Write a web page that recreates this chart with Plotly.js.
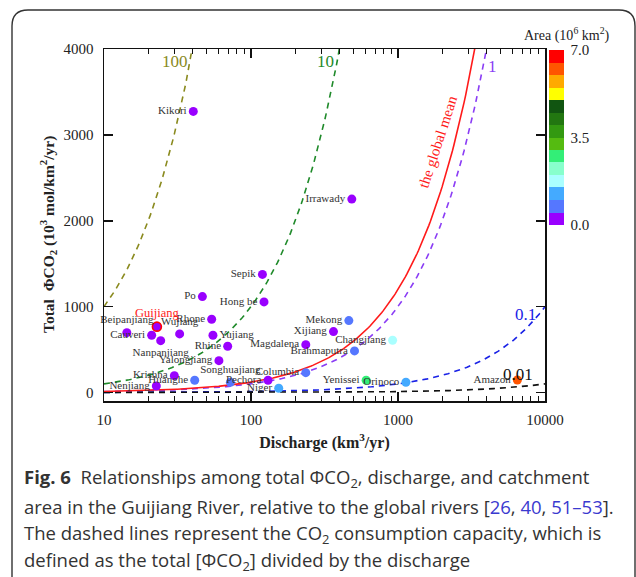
<!DOCTYPE html>
<html><head><meta charset="utf-8">
<script src="https://cdn.plot.ly/plotly-3.0.1.min.js"></script>
<style>html,body{margin:0;padding:0;background:#fff}#chart{width:636px;height:577px}</style>
</head><body><div id="chart"></div>
<script>
// ---- data ----
const rivers = ['Kikori','Irrawady','Sepik','Hong be','Po','Rhone','Guijiang','Beipanjiang','Cauveri','Wujiang','Nanpanjiang','Yujiang','Rhine','Yalongjiang','Krishna','Huanghe','Nenjiang','Songhuajiang','Pechora','Columbia','Niger','Magdalena','Xijiang','Mekong','Brahmaputra','Changjiang','Yenissei','Orinoco','Amazon'];
const discharge = [40.5,485,119.6,122.6,46.7,54.0,22.9,14.3,21.1,32.7,24.3,55.1,69.4,60.5,30.1,41.4,22.7,72.4,130.6,235.9,154.4,235.9,364,463,506,919,607,1132,6486];
const totalFlux = [3273,2252,1375,1055,1117,853,767,697,667,682,604,667,538,371,196,142,76,119,142,231,49,557,709,837,484,608,142,119,146];
const area = [0.013,0.41,0.08,0.15,0.07,0.1,0.019,0.026,0.09,0.087,0.057,0.09,0.19,0.13,0.26,0.75,0.3,0.56,0.32,0.67,1.2,0.26,0.35,0.8,0.58,1.8,2.6,1.1,6.1];
const labelPos = ['middle left','middle left','middle left','middle left','middle left','middle left','top center','top center','middle left','top center','bottom center','middle right','middle left','middle left','middle left','middle left','middle left','top center','middle left','middle left','middle left','middle left','middle left','middle left','middle left','middle left','middle left','middle left','middle left'];

// capacity lines: total flux = capacity x discharge
const capacityLevels = [100, 10, 1, 0.1, 0.01];
const capacityLabels = ['100','10','1','0.1','0.01'];
const globalMeanCapacity = 1.2;
const xTicks = [10, 100, 1000, 10000];
const yTicks = [0, 1000, 2000, 3000, 4000];
const areaTicks = [0, 3.5, 7];
const areaTickText = ['0.0','3.5','7.0'];

// ---- styles ----
const capColors = ['#8a8a1e','#1f8a2a','#8a3cf5','#1a22e6','#111111'];
const bandColors = ['#9900ff','#5577ff','#44aaff','#aaffff','#88ffcc','#33ee77','#55bb11','#339911','#227711','#115511','#ffff00','#ffaa00','#ff5500','#ff0000'];
const colorscale = [];
bandColors.forEach((c,i)=>{colorscale.push([i/bandColors.length,c]);colorscale.push([(i+1)/bandColors.length,c]);});

const serif = 'Liberation Serif, Times New Roman, serif';
const sans = 'Open Sans, Noto Sans, sans-serif';

// sample discharge values on the log axis for the capacity curves
const xs = [];
for (let i=0;i<=300;i++) xs.push(Math.pow(10, 1 + 3*i/300));

const traces = [];
capacityLevels.forEach((c,i)=>{
  traces.push({x: xs, y: xs.map(v=>v*c), mode:'lines', hoverinfo:'skip', showlegend:false,
    line:{color:capColors[i], width:1.6, dash:'6px,5px'}});
});
traces.push({x: xs, y: xs.map(v=>v*globalMeanCapacity), mode:'lines', showlegend:false, hoverinfo:'skip',
  line:{color:'#ff1a1a', width:1.6}});

traces.push({
  x: discharge, y: totalFlux, text: rivers, mode:'markers+text', showlegend:false,
  textposition: labelPos,
  textfont:{family:serif, size: rivers.map(r=>r==='Guijiang'?12.5:11), color: rivers.map(r=>r==='Guijiang'?'#ff1a1a':'#333')},
  cliponaxis:false,
  marker:{size:9, color: area, cmin:0, cmax:7, colorscale: colorscale,
    line:{width: rivers.map(r=>r==='Guijiang'?1.6:0), color: rivers.map(r=>r==='Guijiang'?'#ff0000':'rgba(0,0,0,0)')},
    showscale:true,
    colorbar:{x:1.009, xanchor:'left', y:0.997, yanchor:'top', thickness:15, len:175, lenmode:'pixels',
      tickvals: areaTicks, ticktext: areaTickText, ticks:'outside', ticklen:4, tickcolor:'rgba(0,0,0,0)',
      outlinewidth:0, xpad:0, ypad:0,
      tickfont:{family:serif, size:15, color:'#222'}}
  }
});

const W = 441, H = 352, L = 104, T = 49;
const px = v => (v - L)/W, py = v => (T + H - v)/H;

const annotations = [];
// capacity labels
const capLabelX = [1.480, 2.5085, 3.646, 3.864, 3.816];
const capLabelY = [3849, 3849, 3802, 914, 204];
capacityLabels.forEach((t,i)=>{
  annotations.push({x:capLabelX[i], y:capLabelY[i], xref:'x', yref:'y', text:t, showarrow:false,
    xanchor:'center', yanchor:'middle', font:{family:serif, size:17, color:capColors[i]}});
});
annotations.push({x:3.271, y:2917, xref:'x', yref:'y', text:'the global mean', showarrow:false, textangle:-72,
  xanchor:'center', yanchor:'middle', font:{family:serif, size:15, color:'#ff1a1a'}});
annotations.push({x:px(567), y:py(35), xref:'paper', yref:'paper', xanchor:'center', yanchor:'middle',
  text:'Area (10<sup>6</sup> km<sup>2</sup>)', showarrow:false, font:{family:serif, size:14, color:'#222'}});
// y axis title
annotations.push({x:px(48), y:py(235), xref:'paper', yref:'paper', xanchor:'center', yanchor:'middle', textangle:-90,
  text:'<b>Total  ΦCO<sub>2</sub> (10<sup>3</sup> mol/km<sup>2</sup>/yr)</b>', showarrow:false, font:{family:serif, size:15.5, color:'#222'}});
// caption
const capLines = [
  '<b>Fig. 6</b>  Relationships among total ΦCO<sub>2</sub>, discharge, and catchment',
  'area in the Guijiang River, relative to the global rivers [<span style="color:#3a3acf">26</span>, <span style="color:#3a3acf">40</span>, <span style="color:#3a3acf">51–53</span>].',
  'The dashed lines represent the CO<sub>2</sub> consumption capacity, which is',
  'defined as the total [ΦCO<sub>2</sub>] divided by the discharge'
];
const capY = [478, 506, 534, 561];
capLines.forEach((t,i)=>{
  annotations.push({x:px(22), y:py(capY[i]), xref:'paper', yref:'paper', xanchor:'left', yanchor:'middle',
    text:t, showarrow:false, align:'left', font:{family:sans, size:18.5, color:'#333'}});
});

// rounded figure border
const bx0 = px(12), bx1 = px(635), by0 = py(10), by1 = py(590);
const rx = 16/W, ry = 16/H;
const border = `M ${bx0} ${by1} L ${bx0} ${by0-ry} Q ${bx0} ${by0} ${bx0+rx} ${by0} L ${bx1-rx} ${by0} Q ${bx1} ${by0} ${bx1} ${by0-ry} L ${bx1} ${by1}`;

const layout = {
  width:636, height:577,
  margin:{l:L, r:636-L-W, t:T, b:577-T-H, pad:0},
  paper_bgcolor:'#fff', plot_bgcolor:'#fff',
  font:{family:serif, color:'#222'},
  xaxis:{type:'log', range:[1,4], tickvals:xTicks, ticktext:xTicks.map(String),
    showgrid:false, zeroline:false, showline:true, linecolor:'#111', linewidth:1.5, mirror:'allticks',
    ticks:'inside', ticklen:9, tickwidth:1.5, tickcolor:'#111', ticklabelstandoff:4,
    minor:{ticks:'inside', ticklen:5, tickwidth:1.2, tickcolor:'#111', dtick:'D1', showgrid:false},
    tickfont:{family:serif, size:15, color:'#222'},
    title:{text:'<b>Discharge (km<sup>3</sup>/yr)</b>', standoff:10, font:{family:serif, size:16, color:'#222'}}},
  yaxis:{range:[-99,4000], tickvals:yTicks, showgrid:false, zeroline:false, showline:true, linecolor:'#111', linewidth:1.5, mirror:'ticks',
    ticks:'inside', ticklen:9, tickwidth:1.5, tickcolor:'#111', ticklabelstandoff:6,
    tickfont:{family:serif, size:15, color:'#222'}},
  annotations: annotations,
  shapes:[{type:'path', xref:'paper', yref:'paper', path:border, line:{color:'#333', width:1.4}}]
};

Plotly.newPlot('chart', traces, layout, {staticPlot:true, displayModeBar:false});
</script></body></html>
